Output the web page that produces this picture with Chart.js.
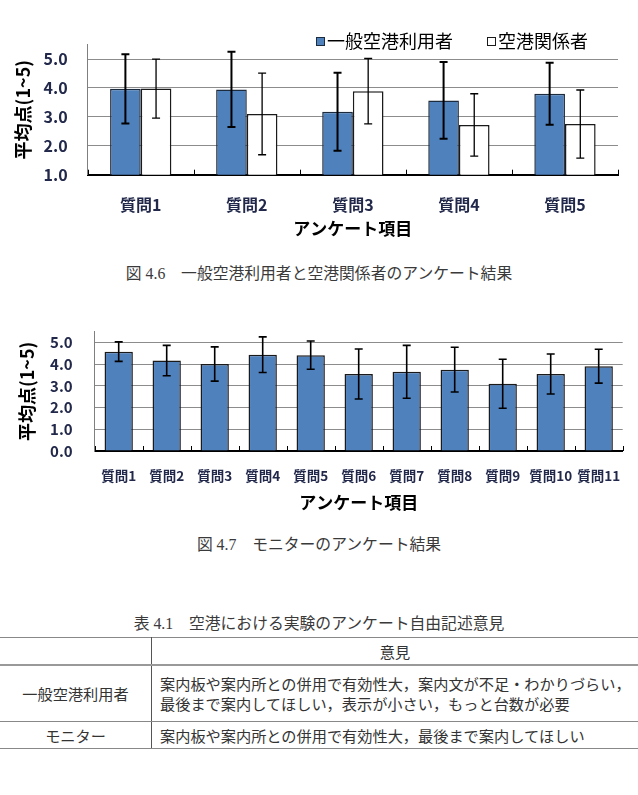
<!DOCTYPE html>
<html lang="ja">
<head>
<meta charset="utf-8">
<script src="https://cdn.jsdelivr.net/npm/chart.js@4.4.0/dist/chart.umd.min.js"></script>
<style>
  html, body { margin: 0; padding: 0; background: #fff; }
  body { width: 638px; height: 795px; position: relative; overflow: hidden;
         font-family: "Liberation Serif", "Noto Sans CJK JP", serif; color: #3a3a3a; }
  canvas { position: absolute; left: 0; }
  .caption { position: absolute; left: 0; width: 638px; text-align: center; font-size: 15.8px; line-height: 20px; }
  table { position: absolute; left: 0; top: 637px; width: 638px; border-collapse: collapse;
          font-family: "Noto Sans CJK JP", sans-serif; font-size: 15.2px; color: #333; }
  td { padding: 0; border-top: 1px solid #888; border-bottom: 1px solid #888; }
  td.name { width: 151px; text-align: center; border-right: 1.5px solid #555; }
  td.txt { padding-left: 8px; line-height: 20px; white-space: nowrap; }
  tr.head td { height: 26px; text-align: center; border-bottom: 2.5px solid #999; }
  tr.head td.txt { padding-left: 0; }
</style>
</head>
<body>
<canvas id="chart1" width="638" height="250" style="top:0"></canvas>
<div class="caption" style="top:264px">図 4.6　一般空港利用者と空港関係者のアンケート結果</div>
<canvas id="chart2" width="638" height="220" style="top:300px"></canvas>
<div class="caption" style="top:535px">図 4.7　モニターのアンケート結果</div>
<div class="caption" style="top:614px">表 4.1　空港における実験のアンケート自由記述意見</div>
<table>
  <tr class="head"><td class="name"></td><td class="txt">意見</td></tr>
  <tr style="height:56px"><td class="name">一般空港利用者</td><td class="txt">案内板や案内所との併用で有効性大，案内文が不足・わかりづらい，<br>最後まで案内してほしい，表示が小さい，もっと台数が必要</td></tr>
  <tr style="height:27px"><td class="name">モニター</td><td class="txt">案内板や案内所との併用で有効性大，最後まで案内してほしい</td></tr>
</table>
<script>
// 図4.6 データ
const questions5 = ['質問1', '質問2', '質問3', '質問4', '質問5'];
const generalMean = [3.97, 3.95, 3.18, 3.57, 3.8];
const generalSD = [1.2, 1.3, 1.35, 1.33, 1.07];
const staffMean = [3.98, 3.1, 3.89, 2.72, 2.75];
const staffSD = [1.02, 1.41, 1.13, 1.08, 1.18];
const yTicks1 = [1, 2, 3, 4, 5];

// 図4.7 データ
const questions11 = ['質問1', '質問2', '質問3', '質問4', '質問5', '質問6', '質問7', '質問8', '質問9', '質問10', '質問11'];
const monitorMean = [4.58, 4.17, 4.01, 4.44, 4.42, 3.55, 3.65, 3.75, 3.1, 3.55, 3.91];
const monitorSD = [0.45, 0.7, 0.79, 0.82, 0.65, 1.15, 1.22, 1.03, 1.13, 0.92, 0.78];
const yTicks2 = [0, 1, 2, 3, 4, 5];

Chart.defaults.font.family = '"Noto Sans CJK JP", "DejaVu Sans", sans-serif';
Chart.defaults.color = '#000';

const tickColor = '#22284a';

// 標準偏差のエラーバー
const errorBars = {
    id: 'errorBars',
    afterDatasetsDraw(chart) {
        const ctx = chart.ctx;
        const y = chart.scales.y;
        chart.data.datasets.forEach((ds, di) => {
            if (!ds.errorBars) return;
            const meta = chart.getDatasetMeta(di);
            ctx.save();
            ctx.strokeStyle = '#000';
            ctx.lineWidth = ds.errorWidth || 1.5;
            meta.data.forEach((bar, i) => {
                const v = ds.data[i], e = ds.errorBars[i];
                const top = y.getPixelForValue(v + e);
                const bot = y.getPixelForValue(v - e);
                ctx.beginPath();
                ctx.moveTo(bar.x, top); ctx.lineTo(bar.x, bot);
                ctx.moveTo(bar.x - 4, top); ctx.lineTo(bar.x + 4, top);
                ctx.moveTo(bar.x - 4, bot); ctx.lineTo(bar.x + 4, bot);
                ctx.stroke();
            });
            ctx.restore();
        });
    }
};

// 項目の区切りの目盛り (内向き)
const boundaryTicks = {
    id: 'boundaryTicks',
    afterDatasetsDraw(chart) {
        const ctx = chart.ctx;
        const x = chart.scales.x;
        const bottom = chart.chartArea.bottom;
        ctx.save();
        ctx.strokeStyle = '#000';
        ctx.lineWidth = 1;
        for (let i = 0; i <= chart.data.labels.length; i++) {
            const px = Math.round(x.getPixelForValue(i - 0.5)) + 0.5;
            ctx.beginPath();
            ctx.moveTo(px, bottom);
            ctx.lineTo(px, bottom - 5);
            ctx.stroke();
        }
        ctx.restore();
    }
};

// 右上の凡例
const cornerLegend = {
    id: 'cornerLegend',
    afterDraw(chart, args, opts) {
        const ctx = chart.ctx;
        let x = opts.x;
        const y = opts.y;
        ctx.save();
        ctx.font = opts.font;
        ctx.textBaseline = 'middle';
        chart.data.datasets.forEach(ds => {
            ctx.fillStyle = ds.backgroundColor;
            ctx.fillRect(x, y - 4.5, 9, 9);
            ctx.strokeStyle = ds.borderColor;
            ctx.lineWidth = 1;
            ctx.strokeRect(x + 0.5, y - 4, 8, 8);
            ctx.fillStyle = '#000';
            ctx.fillText(ds.label, x + 11, y);
            x += 11 + ctx.measureText(ds.label).width + opts.gap;
        });
        ctx.restore();
    }
};

// 目盛りは整数値のみ
const setTicks = values => s => { s.ticks = values.map(v => ({ value: v })); };

// 図4.6
new Chart(document.getElementById('chart1'), {
    type: 'bar',
    data: {
        labels: questions5,
        datasets: [{
            label: '一般空港利用者',
            data: generalMean,
            errorBars: generalSD,
            errorWidth: 2,
            backgroundColor: '#4F81BD',
            borderColor: '#1d2b3f',
            borderWidth: 1.5
        }, {
            label: '空港関係者',
            data: staffMean,
            errorBars: staffSD,
            errorWidth: 1.3,
            backgroundColor: '#ffffff',
            borderColor: '#1a1a1a',
            borderWidth: 1.5
        }]
    },
    options: {
        responsive: false,
        animation: false,
        layout: { padding: { top: 44.6, right: 20, bottom: 11.3, left: 0 } },
        datasets: { bar: { categoryPercentage: 0.578, barPercentage: 1 } },
        plugins: {
            legend: { display: false },
            tooltip: { enabled: false },
            cornerLegend: { x: 316, y: 41.5, gap: 34, font: '18px "Noto Sans CJK JP"' }
        },
        scales: {
            x: {
                grid: { display: false, drawTicks: false },
                border: { color: '#000', width: 2 },
                ticks: { padding: 21, color: tickColor, font: { size: 16, weight: 'bold' },
                         maxRotation: 0, autoSkip: false },
                title: { display: true, text: 'アンケート項目', color: '#000', padding: 0,
                         font: { size: 17, weight: 'bold' } },
                afterFit: s => { s.height = 64; }
            },
            y: {
                min: 1,
                max: 5.5,
                ticks: { padding: 20, color: tickColor,
                         font: { size: 16, weight: 'bold' },
                         callback: v => v.toFixed(1) },
                afterBuildTicks: setTicks(yTicks1),
                grid: { color: '#8c8c8c', lineWidth: 1, drawTicks: false },
                border: { color: '#7f7f7f', width: 1 },
                title: { display: true, text: '平均点(1~5)', color: '#000',
                         padding: { top: 12, bottom: 0 }, font: { size: 18, weight: 'bold' } },
                afterFit: s => { s.width = 87.7; }
            }
        }
    },
    plugins: [errorBars, boundaryTicks, cornerLegend]
});

// 図4.7
new Chart(document.getElementById('chart2'), {
    type: 'bar',
    data: {
        labels: questions11,
        datasets: [{
            label: 'モニター',
            data: monitorMean,
            errorBars: monitorSD,
            errorWidth: 1.6,
            backgroundColor: '#4F81BD',
            borderColor: '#1a1a1a',
            borderWidth: 1.5
        }]
    },
    options: {
        responsive: false,
        animation: false,
        layout: { padding: { top: 31.7, right: 15.3, bottom: 7, left: 0 } },
        datasets: { bar: { categoryPercentage: 1, barPercentage: 0.59 } },
        plugins: {
            legend: { display: false },
            tooltip: { enabled: false }
        },
        scales: {
            x: {
                grid: { display: false, drawTicks: false },
                border: { color: '#000', width: 2 },
                ticks: { padding: 17, color: tickColor, font: { size: 13.5, weight: 'bold' },
                         maxRotation: 0, minRotation: 0, autoSkip: false },
                title: { display: true, text: 'アンケート項目', color: '#000', padding: 0,
                         font: { size: 17, weight: 'bold' } },
                afterFit: s => { s.height = 62; }
            },
            y: {
                min: 0,
                max: 5.5,
                ticks: { padding: 22, color: tickColor,
                         font: { size: 15, weight: 'bold' },
                         callback: v => v.toFixed(1) },
                afterBuildTicks: setTicks(yTicks2),
                grid: { color: '#8c8c8c', lineWidth: 1, drawTicks: false },
                border: { color: '#7f7f7f', width: 1 },
                title: { display: true, text: '平均点(1~5)', color: '#000',
                         padding: { top: 16, bottom: 0 }, font: { size: 18, weight: 'bold' } },
                afterFit: s => { s.width = 94.7; }
            }
        }
    },
    plugins: [errorBars, boundaryTicks]
});
</script>
</body>
</html>
